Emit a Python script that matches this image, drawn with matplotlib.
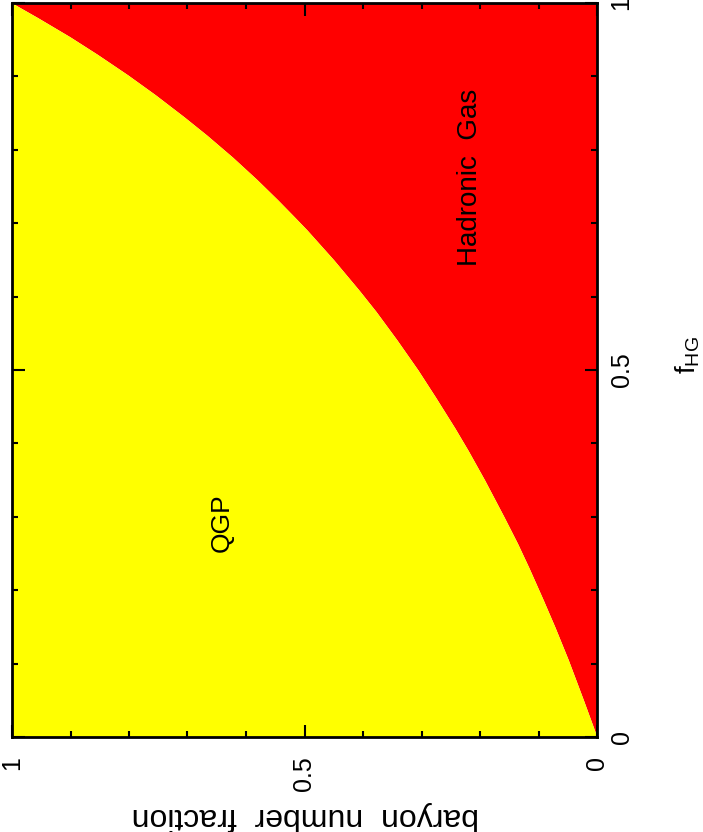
import matplotlib
matplotlib.use('Agg')
import matplotlib.pyplot as plt
from matplotlib.ticker import MultipleLocator

plt.rcParams['font.family'] = ['Liberation Sans', 'DejaVu Sans']
plt.rcParams['mathtext.default'] = 'regular'

# доля объёма адронного газа и доля барионного числа в нём
f_hg = [0.0, 0.05, 0.105, 0.15, 0.187, 0.23, 0.264, 0.30, 0.350, 0.39,
        0.421, 0.463, 0.50, 0.541, 0.58, 0.609, 0.65, 0.691, 0.71, 0.732,
        0.76, 0.790, 0.82, 0.845, 0.875, 0.902, 0.93, 0.954, 0.98, 1.0]
baryon_hg = [0.0, 0.023, 0.049, 0.072, 0.092, 0.116, 0.136, 0.159, 0.192, 0.220,
             0.243, 0.276, 0.306, 0.342, 0.378, 0.407, 0.450, 0.496, 0.519, 0.546,
             0.582, 0.623, 0.667, 0.706, 0.755, 0.802, 0.854, 0.901, 0.956, 1.0]

tick_vals = [0, 0.5, 1]
tick_labels = ['0', '0.5', '1']

fig = plt.figure(figsize=(7.03, 8.32), dpi=100)
# картинка повёрнута: по горизонтали доля барионов (1 слева), по вертикали f_HG
ax = fig.add_axes([12 / 703, 95 / 832, 585 / 703, 734 / 832])

ax.fill_betweenx(f_hg, 0, baryon_hg, color='#ff0000', lw=0)
ax.fill_betweenx(f_hg, baryon_hg, 1, color='#ffff00', lw=0)

ax.set_xlim(1, 0)
ax.set_ylim(0, 1)

ax.set_xticks(tick_vals)
ax.set_xticklabels(tick_labels, rotation=90, fontsize=18)
ax.set_yticks(tick_vals)
ax.set_yticklabels(tick_labels, rotation=90, fontsize=18, va='center')
ax.xaxis.set_minor_locator(MultipleLocator(0.1))
ax.yaxis.set_minor_locator(MultipleLocator(0.1))

ax.tick_params(which='both', direction='in', top=True, bottom=True,
               left=True, right=True, labelleft=False, labelright=True,
               width=1.5, color='black')
ax.tick_params(which='major', length=9)
ax.tick_params(which='minor', length=4.5)
ax.tick_params(axis='x', which='major', pad=14)
ax.tick_params(axis='y', which='major', pad=9)

for s in ax.spines.values():
    s.set_linewidth(2)

ax.text(0.641, 0.292, 'QGP', rotation=90, ha='center', va='center', fontsize=19)
ax.text(0.217, 0.763, 'Hadronic  Gas', rotation=90, ha='center', va='center', fontsize=20)

fig.text(305 / 703, 1 - 816 / 832, 'baryon  number  fraction', rotation=180,
         ha='center', va='center', fontsize=23)
fig.text(688 / 703, 1 - 355 / 832, 'f$_{HG}$', rotation=90,
         ha='center', va='center', fontsize=20)

plt.savefig('out.png', dpi=100)
